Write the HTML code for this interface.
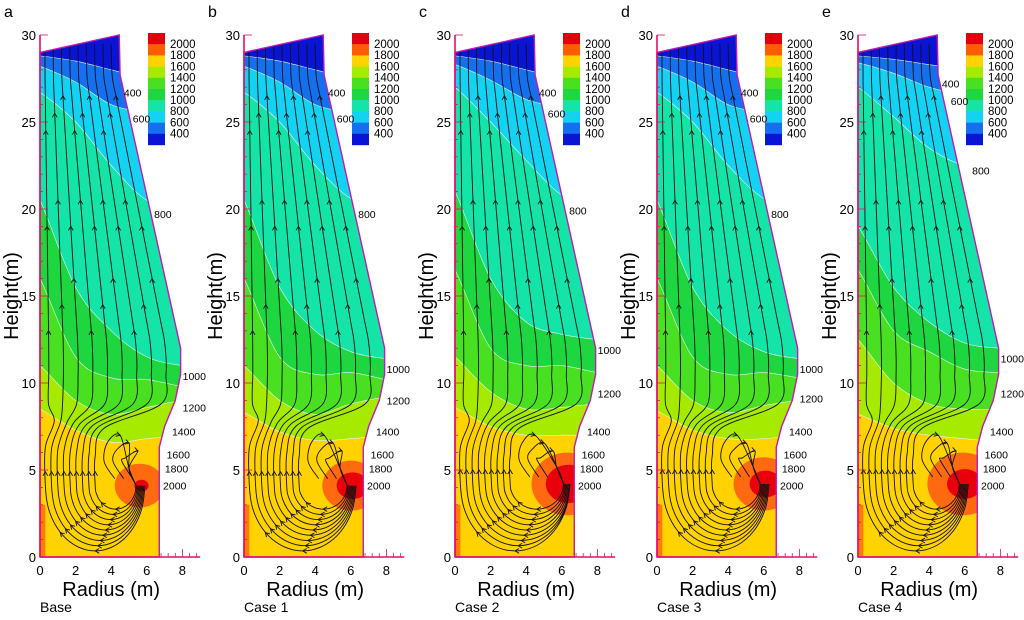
<!DOCTYPE html>
<html><head><meta charset="utf-8"><style>
body{margin:0;background:#fff;width:1024px;height:620px;overflow:hidden}
svg{display:block;font-family:"Liberation Sans",sans-serif}
</style></head><body>
<svg id="chart" width="1024" height="620" viewBox="0 0 1024 620"></svg>
<script>
const panelLetters=['a','b','c','d','e'];
const panelCaptions=['Base','Case 1','Case 2','Case 3','Case 4'];
const panelOrigins=[40,244,455,657,858];
const levelLabels=['2000','1800','1600','1400','1200','1000','800','600','400'];
const yTicks=[0,5,10,15,20,25,30];
const xTicks=[0,2,4,6,8];
const rGrid=[0,2,4,6,8];
// isotherm heights (m) at rGrid, per panel: yellow-top(1600), 1400, 1200, 1000, 800, 600, 400
const isoA=[[8.5,7.3,6.6,6.8,7.0],[11,9,8.2,8.6,9.0],[16,11.5,10.3,10.2,9.8],[20.5,15.5,13,11.5,11],[26.7,25,22.5,20.5,20],[28.2,27.3,26,25.5,25],[28.8,28.5,28,27.5,27.3]];
const isoB=[[8.3,7.2,6.7,6.8,7.0],[11,9,8.2,8.8,9.2],[16,11.5,10.5,10.6,10.2],[20.5,15.5,13,11.8,11.4],[26.7,25,22.5,20.6,20],[28.2,27.3,26,25.5,25],[28.8,28.5,28,27.5,27.3]];
const isoC=[[8.6,7.5,7.0,7.0,7.0],[11.5,9.5,8.5,8.6,8.8],[16.5,12,11,11,10.6],[21,16,13.5,12.8,12.5],[27,25,22.8,20.8,20.2],[28.3,27.4,26.3,25.8,25.3],[28.8,28.5,28,27.5,27.3]];
const isoD=[[8.4,7.3,6.8,6.8,7.0],[11,9,8.3,8.7,9.0],[16,11.5,10.5,10.6,10.3],[20.5,15.5,13,11.8,11.4],[26.7,25,22.5,20.6,20],[28.2,27.3,26,25.5,25],[28.8,28.5,28,27.5,27.3]];
const isoE=[[8.2,7.4,7.0,6.8,6.6],[12.5,10,8.8,8.5,8.5],[16.5,13,11.8,10.8,10.6],[19,15.5,13.5,12.3,12],[27,25.3,23.5,22.5,22.5],[28.4,27.8,27,26.5,26],[28.8,28.6,28.3,28,27.8]];
const isoSets=[isoA,isoB,isoC,isoD,isoE];
const hotR=[5.6,6.0,6.3,6.0,5.9];
const hotZ=[4.1,4.1,4.2,4.2,4.2];
const orangeRad=[1.4,1.6,2.0,1.7,2.0];
const redRad=[0.4,0.9,1.3,0.9,1.0];
const bandColors=['#ffd200','#a6ea00','#48e020','#1ed640','#14e4a8','#14d2f2','#1470ee','#0a14d4'];
const barColors=['#e2000e','#ff5c00','#ffd200','#a6ea00','#48e020','#1ed640','#14e4a8','#14d2f2','#1470ee','#0a14d4'];
const wall=[[0,0],[6.7,0],[6.7,6.3],[7.0,7.5],[7.6,9],[7.9,10.5],[7.9,12],[4.5,27.7],[4.45,30],[0,29]];
const NS='http://www.w3.org/2000/svg';
const svg=document.getElementById('chart');
const SX=17.8,SY=17.4,Y0=557;
function mk(t,a,p){const e=document.createElementNS(NS,t);for(const k in a)e.setAttribute(k,a[k]);(p||svg).appendChild(e);return e;}
function Y(z){return Y0-z*SY;}
function wallR(z){for(let i=1;i<wall.length-2;i++){const a=wall[i],b=wall[i+1];if(z>=a[1]&&z<=b[1]){return a[0]+(b[0]-a[0])*(z-a[1])/((b[1]-a[1])||1);}}return 4.45;}
function smooth(pts){let d='M'+pts[0].join(',');for(let i=0;i<pts.length-1;i++){const p0=pts[i-1]||pts[i],p1=pts[i],p2=pts[i+1],p3=pts[i+2]||p2;d+=`C${p1[0]+(p2[0]-p0[0])/6},${p1[1]+(p2[1]-p0[1])/6} ${p2[0]-(p3[0]-p1[0])/6},${p2[1]-(p3[1]-p1[1])/6} ${p2[0]},${p2[1]}`;}return d;}
function arrow(p,x,y,dx,dy){const L=Math.hypot(dx,dy)||1;dx/=L;dy/=L;const s=4;mk('path',{d:`M${x-dx*s-dy*s*0.6},${y-dy*s+dx*s*0.6}L${x},${y}L${x-dx*s+dy*s*0.6},${y-dy*s-dx*s*0.6}`},p);}
for(let p=0;p<5;p++){
  const ox=panelOrigins[p];const X=r=>ox+r*SX;
  const g=mk('g',{});
  
  
  const cp=mk('clipPath',{id:'clip'+p},g);
  mk('path',{d:'M'+wall.map(q=>X(q[0])+','+Y(q[1])).join('L')+'Z'},cp);
  const field=mk('g',{'clip-path':'url(#clip'+p+')'},g);
  
  
  mk('rect',{x:X(0),y:Y(31),width:9*SX,height:31*SY,fill:bandColors[0]},field);
  const iso=isoSets[p];
  for(let k=0;k<iso.length;k++){
    const pts=[[X(-0.5),Y(iso[k][0])]].concat(rGrid.map((r,i)=>[X(r),Y(iso[k][i])])).concat([[X(9),Y(iso[k][4])]]);
    const d=smooth(pts)+'L'+X(9)+','+Y(31)+'L'+X(-0.5)+','+Y(31)+'Z';
    const band=mk('path',{d:d,fill:bandColors[k+1],stroke:'#e8f8f0','stroke-width':0.6},field);
    
    
  }
  mk('rect',{x:X(0),y:Y(3),width:0.3*SX,height:3*SY,fill:'#ff7a00'},field);
  const oc=mk('ellipse',{cx:X(hotR[p]),cy:Y(hotZ[p]),rx:orangeRad[p]*SX,ry:orangeRad[p]*SY*0.9,fill:'#ff6a10'},field);
  
  
  const rc=mk('ellipse',{cx:X(hotR[p]+0.1),cy:Y(hotZ[p]),rx:redRad[p]*SX,ry:redRad[p]*SY*0.85,fill:'#e8000c'},field);
  
  
  const sl=mk('g',{fill:'none',stroke:'#111','stroke-width':0.9},field);
  
  
  const cx=hotR[p]-0.2,cz=hotZ[p];
  for(let i=0;i<9;i++){
    const s=i/8;const f=(i+0.6)/9.6;
    const bz=0.35+s*2.4;
    const lr=0.3+s*2.8;
    const right=Math.min(cx+0.5*(1-s),6.45);
    const rc2=(right+lr)/2,a=(right-lr)/2,b=cz-bz;
    const pts=[];
    for(let t=0;t<=180;t+=20){const th=t*Math.PI/180;pts.push([rc2+a*Math.cos(th),cz-b*Math.sin(th)]);}
    pts.push([lr,6.3-s*0.5]);
    pts.push([lr+0.5,7.8-s*0.4]);
    pts.push([f*wallR(9),8.8]);
    for(let z=10.5;z<=30;z+=1){pts.push([f*wallR(z),z]);}
    mk('path',{d:smooth(pts.map(q=>[X(q[0]),Y(q[1])]))},sl);
    arrow(sl,X(rc2),Y(bz),-1,0);
    arrow(sl,X(rc2-a*0.7),Y(cz-b*0.72),-0.7,-0.7);
    arrow(sl,X(lr),Y(cz+0.8),0,-1);
    [13+(i%3)*1.5,19+(i%2)*1.5,24.5+(i%3)].forEach(z=>{arrow(sl,X(f*wallR(z)),Y(z),0,-1);});
  }
  for(let j=0;j<3;j++){
    const lr=3.6+j*0.5,top=7.0-j*0.45;
    const pts=[[lr+0.6,cz+0.4],[lr,cz+1.4],[lr+0.2,top-0.4],[lr+0.9,top],[cx-0.4,cz+1.0],[cx,cz]];
    mk('path',{d:smooth(pts.map(q=>[X(q[0]),Y(q[1])]))},sl);
    arrow(sl,X(lr+0.9),Y(top),1,0.3);
  }
  mk('path',{d:'M'+wall.map(q=>X(q[0])+','+Y(q[1])).join('L')+'Z',fill:'none',stroke:'#c01ab0','stroke-width':1.4},g);
  const ax=mk('g',{},g);
  
  
  mk('line',{x1:X(0),y1:Y(0),x2:X(0),y2:Y(30),stroke:'#e0106a','stroke-width':1.6},ax);
  mk('line',{x1:X(0),y1:Y(0),x2:X(9),y2:Y(0),stroke:'#e0106a','stroke-width':1.6},ax);
  for(let z=0;z<=30;z+=1){mk('line',{x1:X(0),y1:Y(z),x2:X(0)+(z%5?3:8),y2:Y(z),stroke:'#e0106a','stroke-width':0.8},ax);}
  for(let r=6.8;r<=9;r+=0.4){mk('line',{x1:X(r),y1:Y(0),x2:X(r),y2:Y(0)-(Math.round(r*10)%20<4?8:4),stroke:'#e0106a','stroke-width':0.8},ax);}
  yTicks.forEach(v=>{const t=mk('text',{x:X(0)-4,y:Y(v)+5,'text-anchor':'end','font-size':13,fill:'#000'},ax);t.textContent=v;});
  xTicks.forEach(v=>{const t=mk('text',{x:X(v),y:575,'text-anchor':'middle','font-size':13,fill:'#000'},ax);t.textContent=v;});
  const xt=mk('text',{x:X(4),y:596,'text-anchor':'middle','font-size':20},g);xt.textContent='Radius (m)';
  
  const yt=mk('text',{x:0,y:0,'text-anchor':'middle','font-size':20,transform:`translate(${ox-22},296) rotate(-90)`},g);yt.textContent='Height(m)';
  
  const lt=mk('text',{x:ox-36,y:17,'font-size':16},g);lt.textContent=panelLetters[p];
  
  const ct=mk('text',{x:ox,y:612,'font-size':14},g);ct.textContent=panelCaptions[p];
  
  const cb=mk('g',{},g);
  
  
  const bx=ox+108;
  barColors.forEach((c,i)=>{mk('rect',{x:bx,y:33+i*11.2,width:17,height:11.4,fill:c},cb);});
  levelLabels.forEach((l,i)=>{const t=mk('text',{x:bx+22,y:43+i*11.2+5,'font-size':11.5},cb);t.textContent=l;});
  const il=mk('g',{'font-size':10.5},g);
  
  
  const labs=[['400',4.6,iso[6][4]-0.6],['600',5.1,iso[5][4]+0.2],['800',6.3,iso[4][4]-0.3],['1000',7.9,iso[3][4]-0.6],['1200',7.9,iso[2][4]-1.2],['1400',7.3,7.2],['1600',7.0,5.9],['1800',6.9,5.1],['2000',6.8,4.1]];
  labs.forEach(q=>{const t=mk('text',{x:X(q[1])+2,y:Y(q[2])+4},il);t.textContent=q[0];});
}
</script>
</body></html>
